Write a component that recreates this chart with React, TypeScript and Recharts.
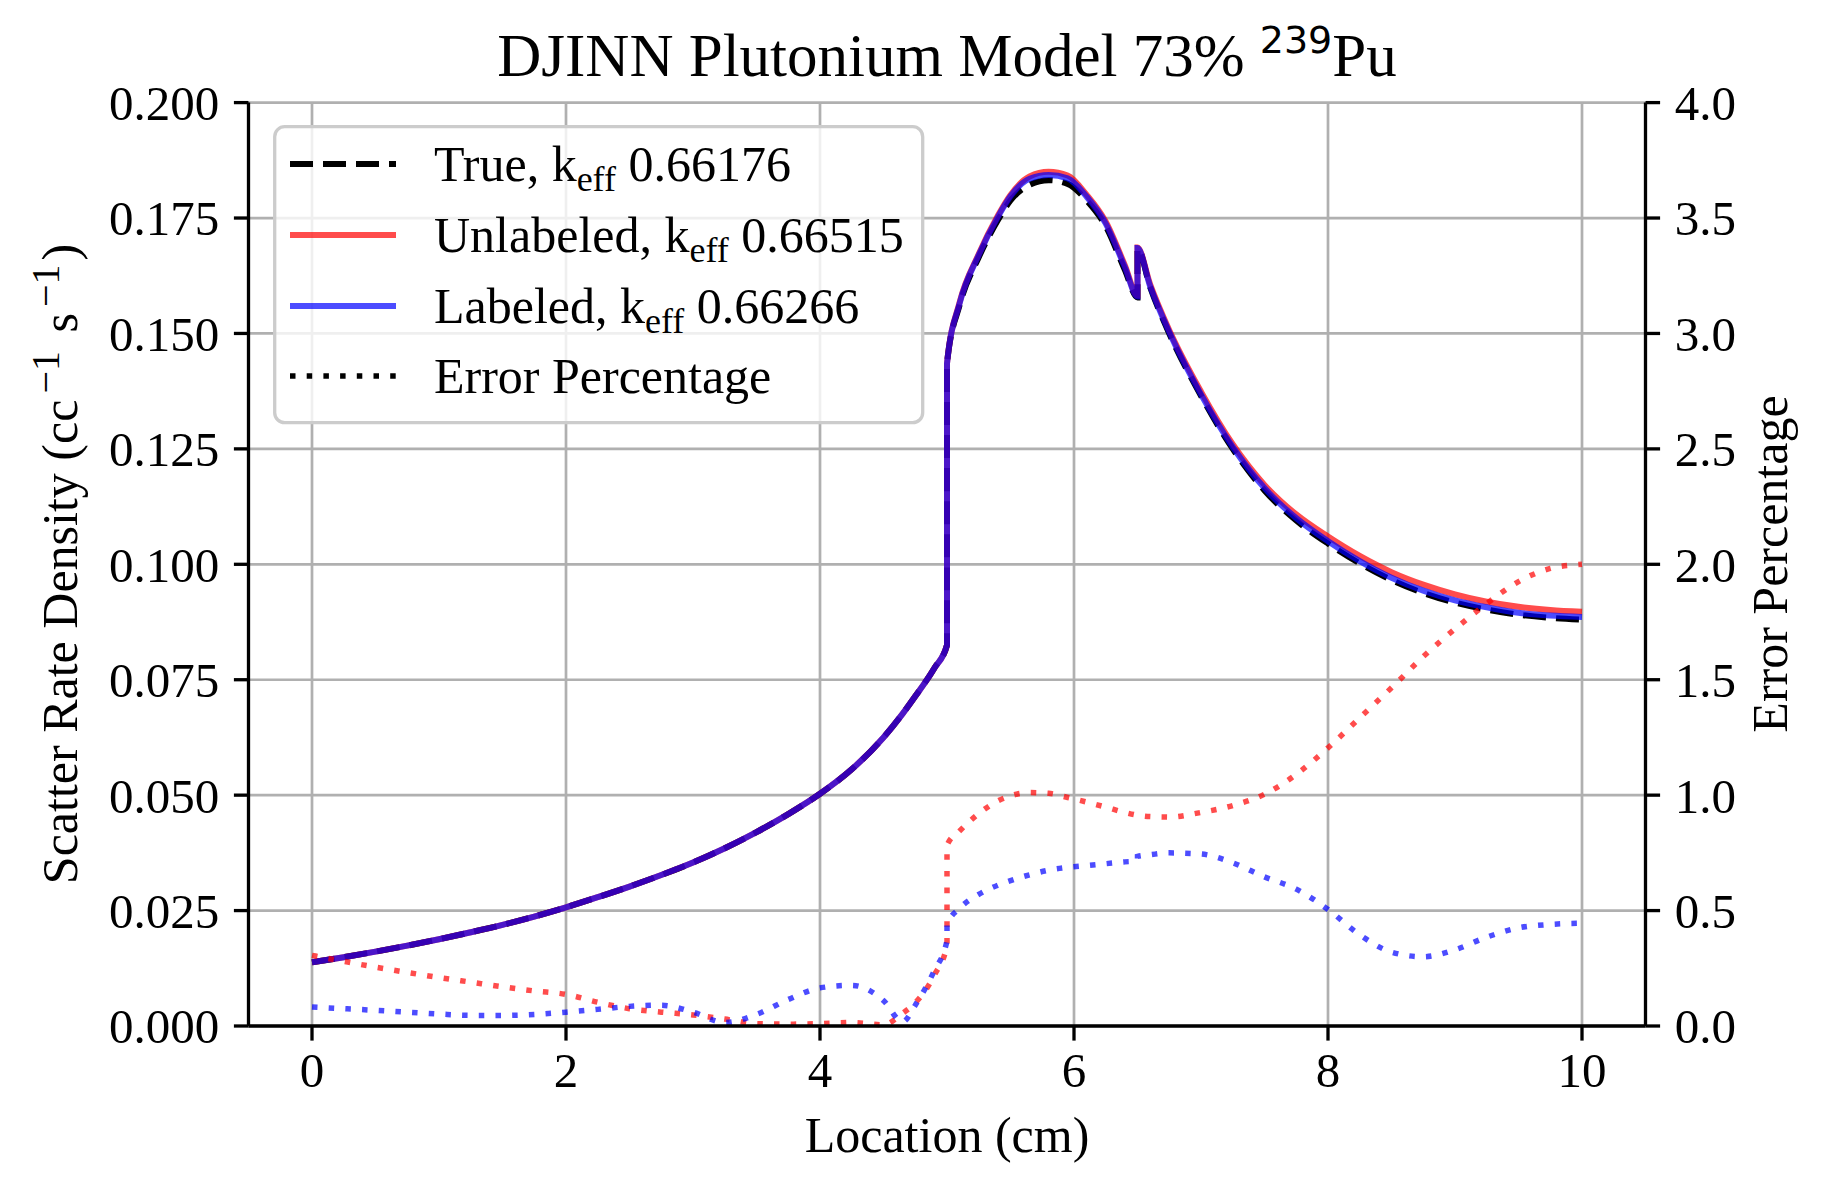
import React from 'react';
import { LineChart, Line, XAxis, YAxis, CartesianGrid, Legend } from 'recharts';

// x positions (cm); 5.0 and 6.5 appear twice for the material-boundary jumps
const LOCATION = [
  0, 0.25, 0.5, 0.75, 1, 1.25, 1.5, 1.75, 2, 2.25, 2.5, 2.75, 3, 3.25, 3.5, 3.75,
  4, 4.25, 4.5, 4.65, 4.75, 4.9, 5, 5, 5.1, 5.25, 5.4, 5.5, 5.65, 5.8, 5.95, 6.1,
  6.25, 6.4, 6.5, 6.5, 6.6, 6.75, 7, 7.25, 7.5, 7.75, 8, 8.25, 8.5, 8.75, 9, 9.25,
  9.5, 9.75, 10,
];

const TRUE_RATE = [
  0.0138, 0.0149, 0.0161, 0.0174, 0.0188, 0.0203, 0.0219, 0.0237, 0.0257, 0.0279, 0.0302, 0.0327, 0.0354, 0.0385, 0.042, 0.0459,
  0.0503, 0.0556, 0.0625, 0.0676, 0.0714, 0.0775, 0.0825, 0.1435, 0.1562, 0.1665, 0.1745, 0.1788, 0.1822, 0.1832, 0.1824, 0.1788,
  0.1732, 0.1638, 0.1578, 0.1684, 0.16, 0.15, 0.1365, 0.125, 0.116, 0.1095, 0.1045, 0.1002, 0.0966, 0.0938, 0.0917, 0.0902,
  0.0891, 0.0884, 0.088,
];

const UNLABELED_RATE = [
  0.0138, 0.0149, 0.0161, 0.0174, 0.0188, 0.0203, 0.0219, 0.0237, 0.0257, 0.0279, 0.0302, 0.0327, 0.0354, 0.0385, 0.042, 0.0459,
  0.0503, 0.0556, 0.0625, 0.0676, 0.0714, 0.0775, 0.0825, 0.1435, 0.1568, 0.1672, 0.1755, 0.18, 0.184, 0.185, 0.1842, 0.18,
  0.1742, 0.1648, 0.1582, 0.1686, 0.1606, 0.1507, 0.1374, 0.126, 0.1172, 0.1108, 0.106, 0.1018, 0.0983, 0.0956, 0.0935, 0.0919,
  0.0908, 0.0901, 0.0897,
];

const LABELED_RATE = [
  0.0138, 0.0149, 0.0161, 0.0174, 0.0188, 0.0203, 0.0219, 0.0237, 0.0257, 0.0279, 0.0302, 0.0327, 0.0354, 0.0385, 0.042, 0.0459,
  0.0503, 0.0556, 0.0625, 0.0676, 0.0714, 0.0775, 0.0825, 0.1435, 0.1566, 0.167, 0.1752, 0.1797, 0.1835, 0.1843, 0.1836, 0.1796,
  0.1738, 0.1644, 0.158, 0.1685, 0.1602, 0.1503, 0.1368, 0.1254, 0.1165, 0.11, 0.105, 0.1007, 0.0971, 0.0943, 0.0922, 0.0907,
  0.0895, 0.0889, 0.0886,
];

const UNLABELED_ERR = [
  0.306, 0.28, 0.255, 0.232, 0.21, 0.19, 0.17, 0.152, 0.137, 0.103, 0.075, 0.06, 0.048, 0.03, 0.01, 0.008,
  0.01, 0.015, 0.005, 0.055, 0.1, 0.22, 0.35, 0.783, 0.845, 0.92, 0.975, 0.997, 1.011, 1.008, 0.99, 0.97,
  0.948, 0.925, 0.913, 0.913, 0.907, 0.905, 0.925, 0.955, 1.004, 1.09, 1.205, 1.335, 1.465, 1.6, 1.72, 1.83,
  1.925, 1.982, 2.0,
];

const LABELED_ERR = [
  0.082, 0.075, 0.068, 0.06, 0.052, 0.046, 0.046, 0.05, 0.06, 0.072, 0.085, 0.09, 0.06, 0.015, 0.05, 0.115,
  0.165, 0.176, 0.11, 0.018, 0.09, 0.24, 0.37, 0.44, 0.51, 0.57, 0.61, 0.63, 0.655, 0.675, 0.687, 0.695,
  0.703, 0.711, 0.715, 0.735, 0.742, 0.75, 0.745, 0.707, 0.646, 0.593, 0.505, 0.395, 0.32, 0.3, 0.33, 0.385,
  0.425, 0.44, 0.445,
];

const X_TICKS = [0, 2, 4, 6, 8, 10];
const LEFT_TICKS = [0, 0.025, 0.05, 0.075, 0.1, 0.125, 0.15, 0.175, 0.2];
const RIGHT_TICKS = [0, 0.5, 1, 1.5, 2, 2.5, 3, 3.5, 4];

const LEGEND_ITEMS = [
  { name: 'True', keff: '0.66176', color: '#000000', opacity: 1, dash: '23 10', width: 6 },
  { name: 'Unlabeled', keff: '0.66515', color: '#ff0000', opacity: 0.7, dash: undefined, width: 6 },
  { name: 'Labeled', keff: '0.66266', color: '#0000ff', opacity: 0.7, dash: undefined, width: 6 },
  { name: 'Error Percentage', keff: null, color: '#000000', opacity: 1, dash: '5.5 11.2', width: 5.5 },
];

const SERIF = '"Liberation Serif", "Times New Roman", serif';
const FS = 50;
const FS_TICK = 49;
const GRID = '#b0b0b0';
const SPINE = 3.3;
const TICK_LEN = 14.6;

const rows = LOCATION.map((x, i) => ({
  x,
  trueRate: TRUE_RATE[i],
  unlabeled: UNLABELED_RATE[i],
  labeled: LABELED_RATE[i],
  unlabeledErr: UNLABELED_ERR[i],
  labeledErr: LABELED_ERR[i],
}));

function LegendBox() {
  const rowY = [165, 236, 307, 377];
  return (
    <svg width={652} height={300} style={{ display: 'block' }}>
      <rect x={1.7} y={1.7} width={648} height={296} rx={10} fill="#ffffff" fillOpacity={0.8} stroke="#cccccc" strokeWidth={3.3} />
      {LEGEND_ITEMS.map((it, i) => {
        const cy = rowY[i] - 126;
        return (
          <g key={it.name}>
            <line
              x1={17} x2={123} y1={cy} y2={cy}
              stroke={it.color} strokeOpacity={it.opacity}
              strokeWidth={it.width}
              strokeDasharray={it.dash}
            />
            <text x={161} y={cy + 17} fontFamily={SERIF} fontSize={FS} fill="#000">
              {it.keff ? (
                <>
                  {it.name}, k
                  <tspan fontSize={36} dy={10}>eff</tspan>
                  <tspan dy={-10}> {it.keff}</tspan>
                </>
              ) : it.name}
            </text>
          </g>
        );
      })}
    </svg>
  );
}

export default function App() {
  return (
    <div style={{ position: 'relative', width: 1828, height: 1194, background: '#fff', fontFamily: SERIF }}>
      <style>{'body{margin:0}'}</style>
      <LineChart
        width={1828}
        height={1194}
        data={rows}
        margin={{ top: 102.6, right: 82.5, bottom: 108, left: 128.5 }}
      >
        <CartesianGrid yAxisId="left" stroke={GRID} strokeWidth={2.7} />
        <XAxis
          dataKey="x"
          type="number"
          domain={[-0.5, 10.5]}
          ticks={X_TICKS}
          height={60}
          axisLine={{ stroke: '#000', strokeWidth: SPINE }}
          tickLine={{ stroke: '#000', strokeWidth: SPINE }}
          tickSize={TICK_LEN}
          tickMargin={12}
          tick={{ fontSize: FS_TICK, fill: '#000', fontFamily: SERIF }}
        />
        <XAxis
          xAxisId="top"
          orientation="top"
          dataKey="x"
          type="number"
          domain={[-0.5, 10.5]}
          height={0}
          tick={false}
          tickLine={false}
          axisLine={{ stroke: '#000', strokeWidth: SPINE }}
        />
        <YAxis
          yAxisId="left"
          domain={[0, 0.2]}
          ticks={LEFT_TICKS}
          width={120}
          axisLine={{ stroke: '#000', strokeWidth: SPINE }}
          tickLine={{ stroke: '#000', strokeWidth: SPINE }}
          tickSize={TICK_LEN}
          tickMargin={14.6}
          tickFormatter={(v: number) => v.toFixed(3)}
          tick={{ fontSize: FS_TICK, fill: '#000', fontFamily: SERIF }}
        />
        <YAxis
          yAxisId="right"
          orientation="right"
          domain={[0, 4]}
          ticks={RIGHT_TICKS}
          width={100}
          axisLine={{ stroke: '#000', strokeWidth: SPINE }}
          tickLine={{ stroke: '#000', strokeWidth: SPINE }}
          tickSize={TICK_LEN}
          tickMargin={14.6}
          tickFormatter={(v: number) => v.toFixed(1)}
          tick={{ fontSize: FS_TICK, fill: '#000', fontFamily: SERIF }}
        />
        <Line yAxisId="left" type="monotone" dataKey="trueRate" stroke="#000" strokeWidth={6} strokeDasharray="23 10" dot={false} isAnimationActive={false} />
        <Line yAxisId="left" type="monotone" dataKey="unlabeled" stroke="#ff0000" strokeOpacity={0.7} strokeWidth={6} dot={false} isAnimationActive={false} />
        <Line yAxisId="left" type="monotone" dataKey="labeled" stroke="#0000ff" strokeOpacity={0.7} strokeWidth={6} dot={false} isAnimationActive={false} />
        <Line yAxisId="right" type="monotone" dataKey="unlabeledErr" stroke="#ff0000" strokeOpacity={0.7} strokeWidth={5.5} strokeDasharray="5.5 11.2" dot={false} isAnimationActive={false} />
        <Line yAxisId="right" type="monotone" dataKey="labeledErr" stroke="#0000ff" strokeOpacity={0.7} strokeWidth={5.5} strokeDasharray="5.5 11.2" dot={false} isAnimationActive={false} />
        <Legend
          layout="horizontal"
          verticalAlign="middle"
          align="center"
          wrapperStyle={{ left: 273, top: 125, width: 652, height: 300 }}
          content={() => <LegendBox />}
        />
      </LineChart>
      <svg width={1828} height={1194} style={{ position: 'absolute', left: 0, top: 0, pointerEvents: 'none' }}>
        <text x={947} y={76} textAnchor="middle" fontFamily={SERIF} fontSize={61} fill="#000">
          DJINN Plutonium Model 73%{' '}
          <tspan fontFamily="DejaVu Sans" fontSize={38} dy={-23}>239</tspan>
          <tspan dy={23}>Pu</tspan>
        </text>
        <text x={947} y={1152} textAnchor="middle" fontFamily={SERIF} fontSize={FS} fill="#000">
          Location (cm)
        </text>
        <text transform="translate(77,564) rotate(-90)" textAnchor="middle" fontFamily={SERIF} fontSize={FS} fill="#000">
          Scatter Rate Density (cc
          <tspan fontSize={40} dx={6} dy={-18}>−1</tspan>
          <tspan dx={6} dy={18}> s</tspan>
          <tspan fontSize={40} dx={6} dy={-18}>−1</tspan>
          <tspan dx={4} dy={18}>)</tspan>
        </text>
        <text transform="translate(1787,564) rotate(-90)" textAnchor="middle" fontFamily={SERIF} fontSize={FS} fill="#000">
          Error Percentage
        </text>
      </svg>
    </div>
  );
}
